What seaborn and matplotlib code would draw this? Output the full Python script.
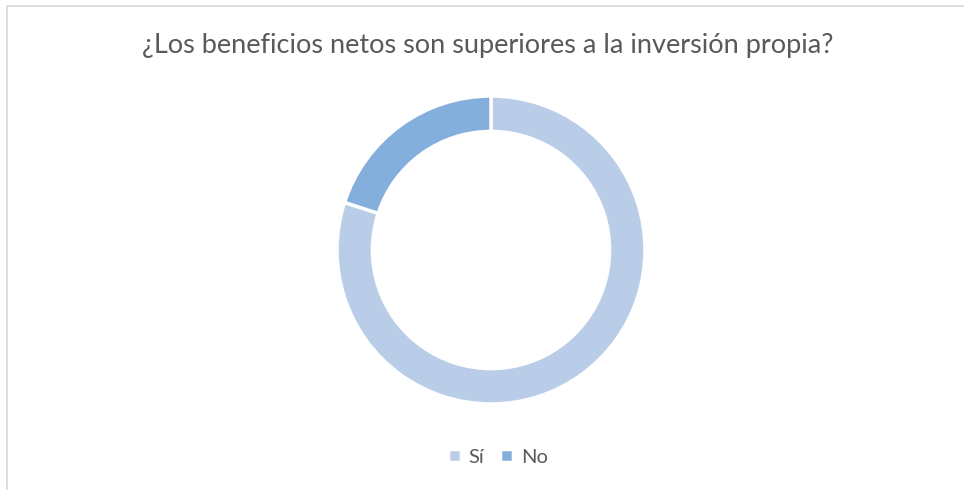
import matplotlib.pyplot as plt
import seaborn as sns
from matplotlib.patches import Rectangle

# datos
categorias = ['Sí', 'No']
porcentajes = [80, 20]
colores = ['#B9CDE8', '#84AFDC']
titulo = '¿Los beneficios netos son superiores a la inversión propia?'

sns.set_theme(style='white')
plt.rcParams['font.family'] = ['Lato', 'DejaVu Sans']

fig = plt.figure(figsize=(9.64, 4.90), dpi=100)

# marco del área del gráfico
fig.patches.append(Rectangle((7 / 964, -0.01), 1.0, 1 - 6 / 490 + 0.01,
                             transform=fig.transFigure, fill=False,
                             edgecolor='#D9D9D9', linewidth=1.2))

cx, cy, r = 491, 250, 154
ax = fig.add_axes([(cx - r) / 964, (490 - cy - r) / 490, 2 * r / 964, 2 * r / 490])
wedges, _ = ax.pie(porcentajes, colors=colores, startangle=90, counterclock=False,
                   radius=1, wedgeprops=dict(width=0.23, edgecolor='white', linewidth=2.5))
ax.set_xlim(-1, 1)
ax.set_ylim(-1, 1)
ax.set_aspect('equal')
ax.axis('off')

fig.text(488 / 964, 1 - 45 / 490, titulo, ha='center', va='center',
         fontsize=19.5, color='#595959')

leg = fig.legend(wedges, categorias, loc='center', bbox_to_anchor=(498 / 964, 1 - 457 / 490),
                 ncol=2, frameon=False, fontsize=14.5, labelcolor='#595959',
                 handlelength=0.6, handleheight=0.6, handletextpad=0.4, columnspacing=0.8)

fig.savefig('out.png', dpi=100)
plt.close(fig)
